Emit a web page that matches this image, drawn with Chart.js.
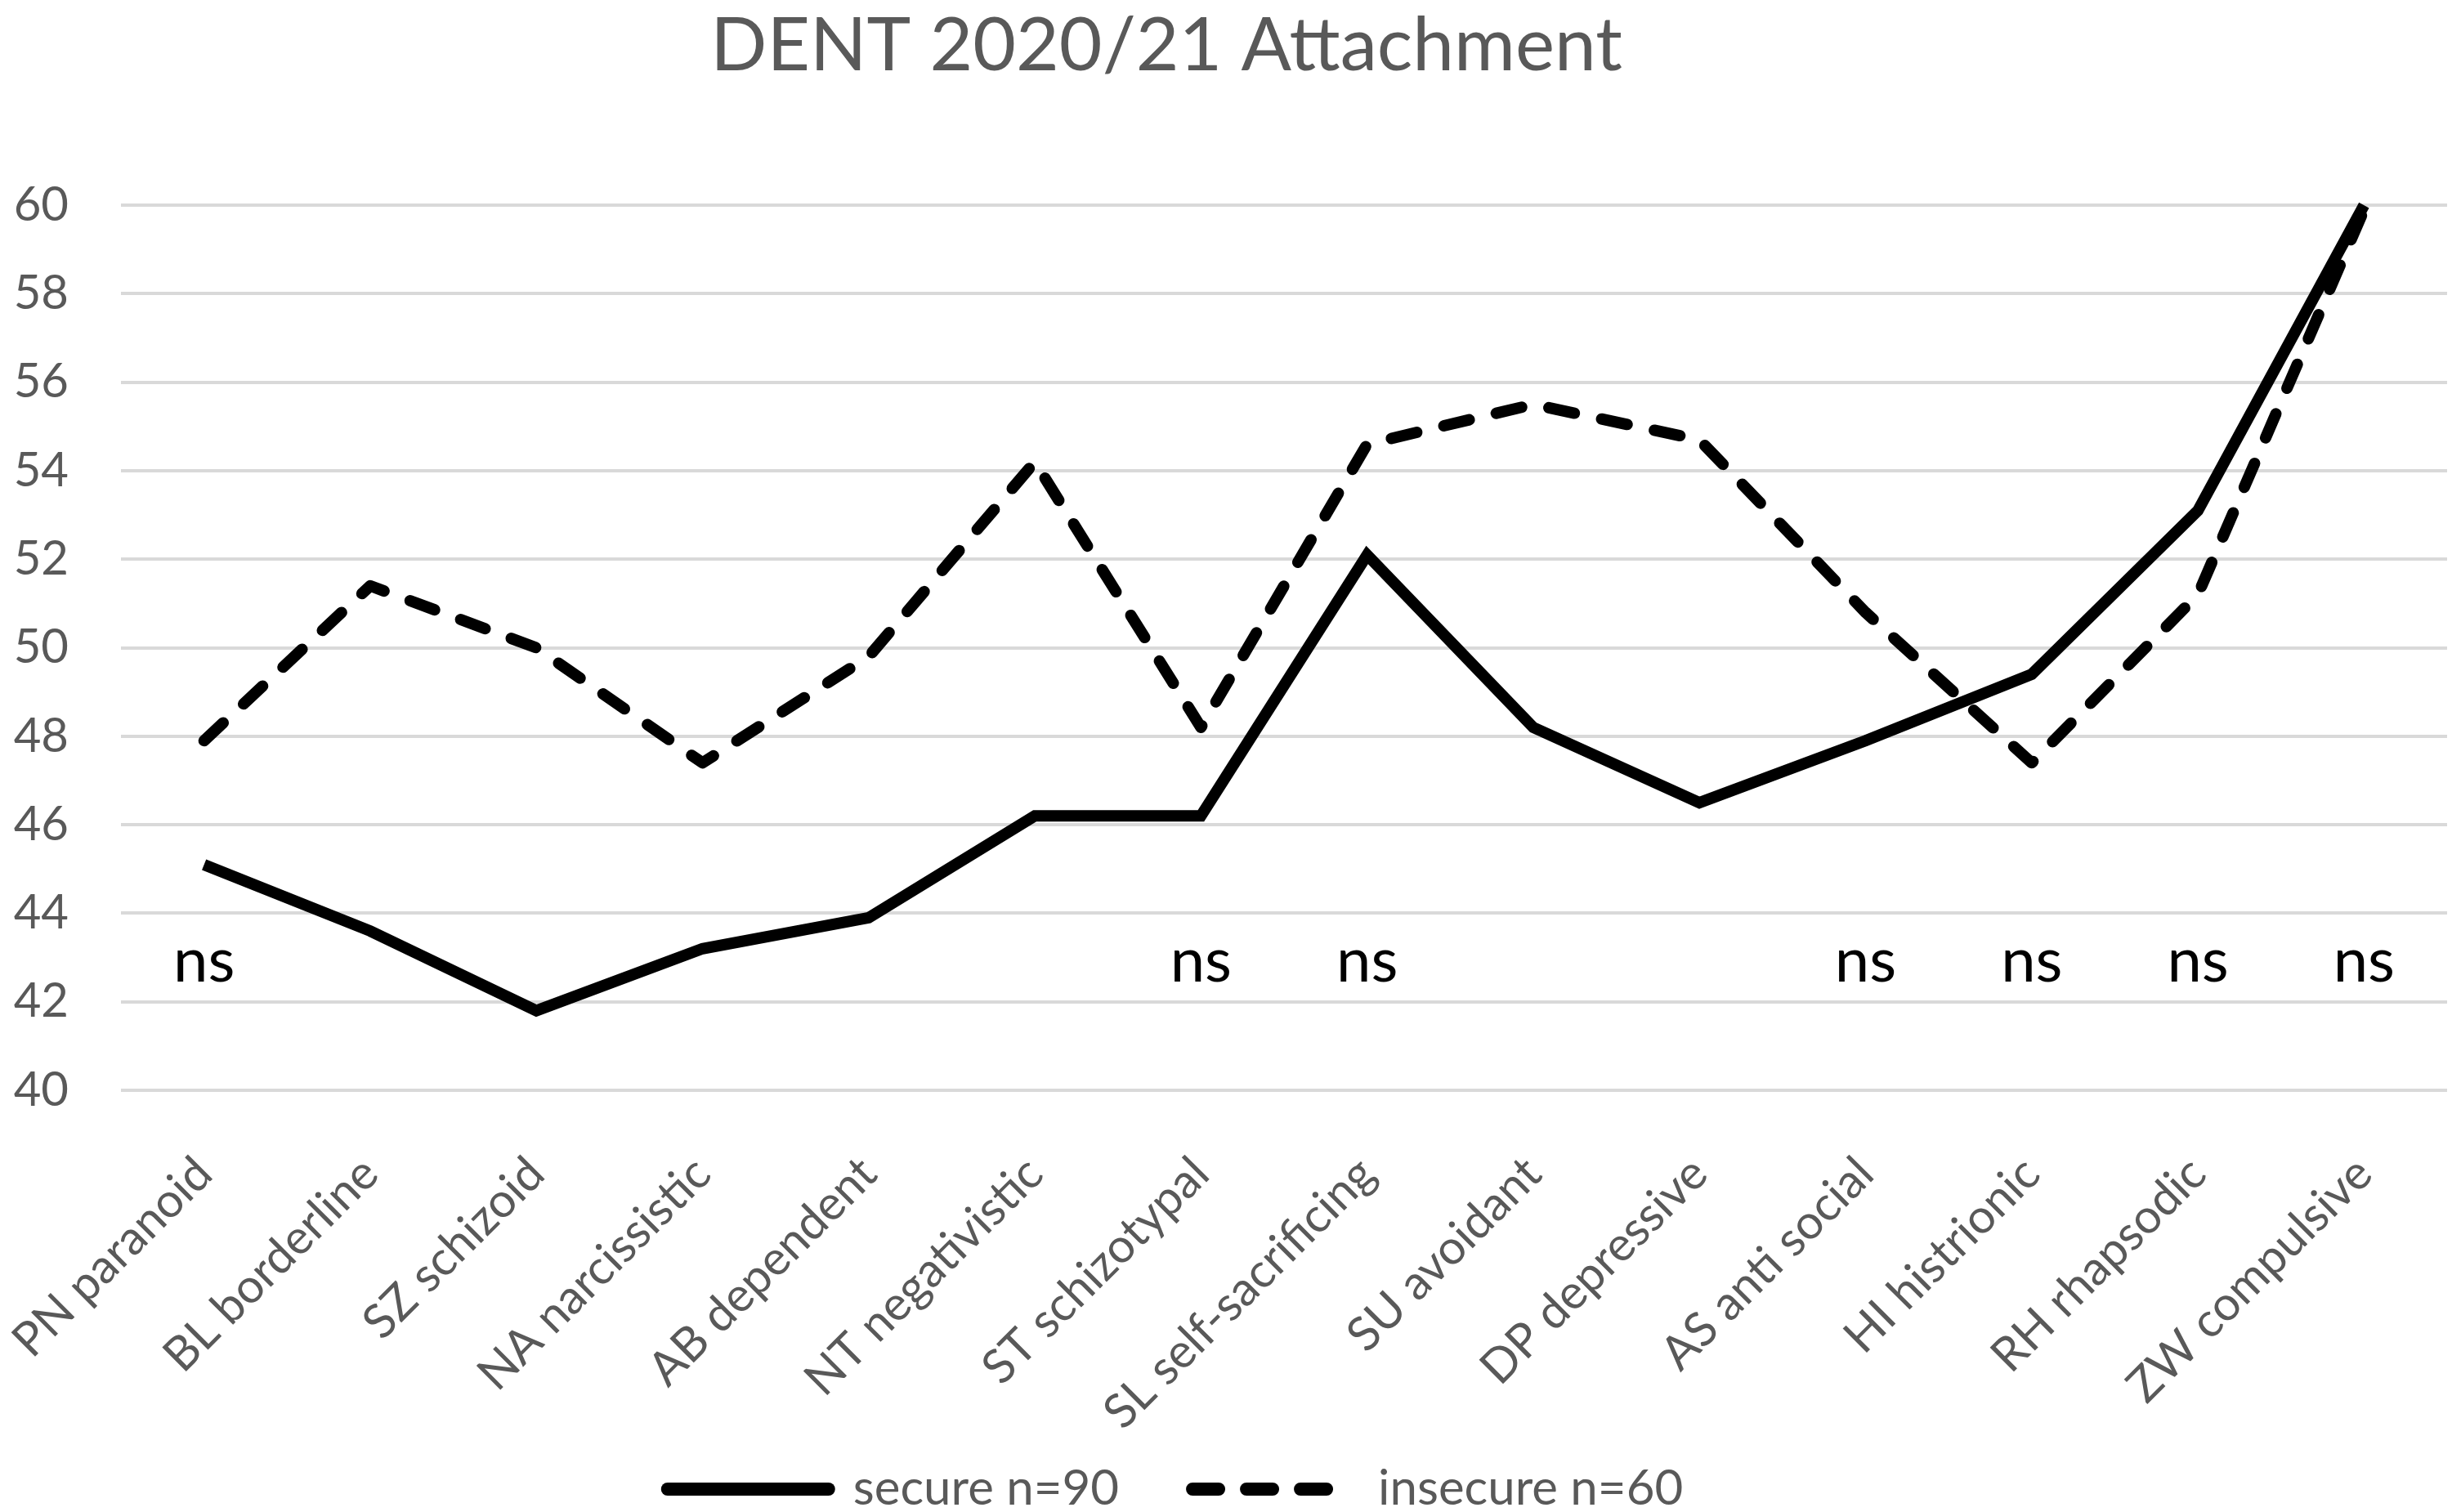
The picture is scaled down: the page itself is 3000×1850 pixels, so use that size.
<!DOCTYPE html>
<html>
<head>
<meta charset="utf-8">
<script src="https://cdn.jsdelivr.net/npm/chart.js@4/dist/chart.umd.min.js"></script>
<style>
  html, body { margin: 0; padding: 0; background: #ffffff; }
  #wrap { width: 3000px; height: 1850px; position: relative; }
</style>
</head>
<body>
<div id="wrap"><canvas id="c"></canvas></div>
<script>
const categories = [
  "PN paranoid", "BL borderline", "SZ schizoid", "NA narcissistic", "AB dependent",
  "NT negativistic", "ST schizotypal", "SL self-sacrificing", "SU avoidant", "DP depressive",
  "AS anti social", "HI histrionic", "RH rhapsodic", "ZW compulsive"
];
const secure   = [45.1, 43.6, 41.8, 43.2, 43.9, 46.2, 46.2, 52.1, 48.2, 46.5, 47.9, 49.4, 53.1, 60.0];
const insecure = [47.9, 51.4, 50.0, 47.4, 49.8, 54.2, 48.2, 54.6, 55.5, 54.7, 50.8, 47.4, 51.2, 59.9];
const nsFlags  = [true, false, false, false, false, false, true, true, false, false, true, true, true, true];
const seriesNames = ["secure n=90", "insecure n=60"];
const yTicks = [40, 42, 44, 46, 48, 50, 52, 54, 56, 58, 60];
const chartTitle = "DENT 2020/21 Attachment";

const FONT = "Lato";
const GREY = "#595959";

const nsPlugin = {
  id: "nsLabels",
  afterDatasetsDraw(chart) {
    const ctx = chart.ctx;
    const xs = chart.scales.x, ys = chart.scales.y;
    ctx.save();
    ctx.font = "76px " + FONT;
    ctx.fillStyle = "#000000";
    ctx.textAlign = "center";
    ctx.textBaseline = "alphabetic";
    const baseY = ys.getPixelForValue(42.45);
    nsFlags.forEach((f, i) => {
      if (f) ctx.fillText("ns", xs.getPixelForValue(i), baseY);
    });
    ctx.restore();
  }
};

const shiftPlugin = {
  id: "shiftBlocks",
  afterLayout(chart) {
    if (chart.titleBlock) chart.titleBlock.right = chart.width - 146;
    if (chart.legend) chart.legend.right = chart.width - 124;
    // let the rotated category labels run down past the legend's top edge
    if (chart.scales.x) chart.scales.x.bottom = chart.height;
  }
};

new Chart(document.getElementById("c"), {
  type: "line",
  data: {
    labels: categories,
    datasets: [
      {
        label: seriesNames[0],
        data: secure,
        borderColor: "#000000",
        backgroundColor: "#000000",
        borderWidth: 14,
        borderJoinStyle: "miter",
        borderCapStyle: "butt",
        pointRadius: 0,
        pointStyle: "line",
        tension: 0,
        clip: false
      },
      {
        label: seriesNames[1],
        data: insecure,
        borderColor: "#000000",
        backgroundColor: "#000000",
        borderWidth: 14,
        borderDash: [32, 34],
        borderCapStyle: "round",
        borderJoinStyle: "round",
        pointRadius: 0,
        pointStyle: "line",
        tension: 0,
        clip: false
      }
    ]
  },
  options: {
    responsive: true,
    maintainAspectRatio: false,
    devicePixelRatio: 1,
    animation: false,
    layout: { padding: { left: 0, right: 6, top: 0, bottom: -12 } },
    plugins: {
      title: {
        display: true,
        text: chartTitle,
        color: GREY,
        font: { family: FONT, size: 91, weight: "normal" },
        padding: { top: 2, bottom: 140 }
      },
      legend: {
        display: true,
        position: "bottom",
        labels: {
          usePointStyle: true,
          pointStyleWidth: 197,
          boxHeight: 60,
          padding: 90,
          color: GREY,
          font: { family: FONT, size: 60 },
          generateLabels(chart) {
            const items = Chart.defaults.plugins.legend.labels.generateLabels(chart);
            items.forEach(it => {
              const ds = chart.data.datasets[it.datasetIndex];
              it.lineDash = ds.borderDash || [];
              it.lineCap = "round";
              it.lineWidth = 16;
            });
            return items;
          }
        }
      },
      tooltip: { enabled: false }
    },
    scales: {
      x: {
        type: "category",
        offset: true,
        grid: { display: false, drawTicks: false },
        border: { display: false },
        ticks: {
          color: GREY,
          font: { family: FONT, size: 58 },
          minRotation: 45,
          maxRotation: 45,
          autoSkip: false,
          padding: 68
        },
        afterFit(scale) {
          scale.height = 368;
          scale.paddingLeft = 0;
          scale.paddingRight = 0;
        }
      },
      y: {
        min: 40,
        max: 60,
        grid: { color: "#d9d9d9", lineWidth: 4, drawTicks: false },
        border: { display: false },
        ticks: {
          stepSize: 2,
          color: GREY,
          font: { family: FONT, size: 58 },
          padding: 64
        },
        afterBuildTicks(axis) { axis.ticks = yTicks.map(v => ({ value: v })); },
        afterFit(scale) { scale.width = 148; }
      }
    }
  },
  plugins: [nsPlugin, shiftPlugin]
});
</script>
</body>
</html>
